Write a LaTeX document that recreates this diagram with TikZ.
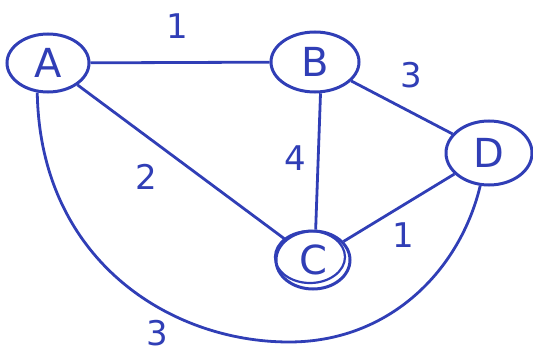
\documentclass[tikz,border=0pt]{standalone}
\usepackage{fontspec}
\setmainfont{DejaVu Sans}
\usetikzlibrary{shapes.geometric}
\definecolor{ink}{RGB}{48,62,182}
\tikzset{
  vert/.style={ellipse,draw=ink,line width=3pt,inner sep=0pt,text=ink,font=\fontsize{40}{44}\selectfont},
  edge/.style={draw=ink,line width=2.8pt},
  wt/.style={text=ink,font=\fontsize{34}{38}\selectfont,inner sep=0pt}
}
\begin{document}
\begin{tikzpicture}[x=1pt,y=-1pt]
\useasboundingbox (0,0) rectangle (533,353);
\node[vert,minimum width=82pt,minimum height=58pt] (A) at (48,63) {A};
\node[vert,minimum width=88pt,minimum height=60pt] (B) at (315,62) {B};
\node[vert,minimum width=86pt,minimum height=64pt] (D) at (489,153) {D};
\node[vert,minimum width=74pt,minimum height=58pt] (C) at (313,260) {C};
\draw[ink,line width=2.2pt] (310,257) ellipse [x radius=35pt,y radius=26pt];
\draw[edge] (A) -- (B);
\draw[edge] (A) -- (C);
\draw[edge] (B.-80) -- (C.85);
\draw[edge] (B) -- (D);
\draw[edge] (C) -- (D);
\draw[edge] (A.250) .. controls (40,260) and (170,342) .. (289,342)
  .. controls (390,342) and (460,270) .. (D.255);
\node[wt] (w1) at (177,26) {1};
\node[wt] (w2) at (411,75) {3};
\node[wt] (w3) at (295,158) {4};
\node[wt] (w4) at (146,177) {2};
\node[wt] (w5) at (403,235) {1};
\node[wt] (w6) at (157,333) {3};
\end{tikzpicture}
\end{document}
